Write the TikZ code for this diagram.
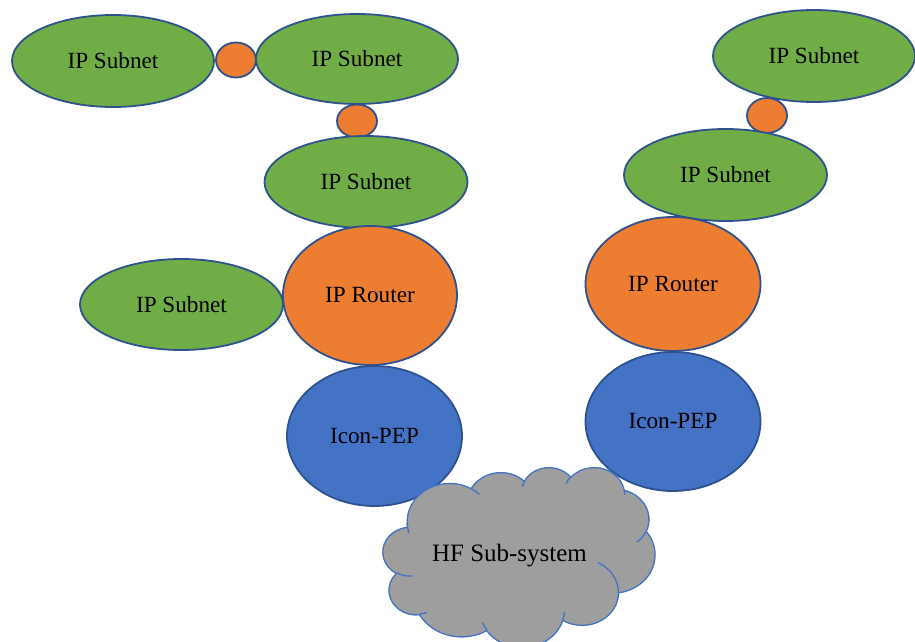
\documentclass[tikz,border=0pt]{standalone}
\usepackage{fontspec}
\setmainfont{Liberation Serif}
\usetikzlibrary{shapes.geometric}
\definecolor{sgreen}{HTML}{70AD47}
\definecolor{sorange}{HTML}{ED7D31}
\definecolor{sblue}{HTML}{4472C4}
\definecolor{sline}{HTML}{2F528F}
\definecolor{cgray}{HTML}{9E9E9E}
\definecolor{cline}{HTML}{4472C4}
\def\cldr{1}
\newcommand\carc[4]{arc[x radius=#1, y radius=#2, start angle={atan2(#1*\cldr*sin(#3),#2*cos(#3))}, delta angle={mod(atan2(#1*\cldr*sin(#3+#4),#2*cos(#3+#4))-atan2(#1*\cldr*sin(#3),#2*cos(#3))+720,360)}]}
\tikzset{
  ell/.style={ellipse, draw=sline, line width=1.8pt, inner sep=0pt, font=\fontsize{23.2}{28}\selectfont},
  subnet/.style={ell, fill=sgreen, minimum width=202pt, minimum height=91pt},
  knot/.style={ell, fill=sorange, minimum width=40pt, minimum height=35pt},
  router/.style={ell, fill=sorange, minimum width=174pt},
  pep/.style={ell, fill=sblue, minimum width=174pt},
  cloudfill/.style={fill=cgray, draw=cline, line width=1.3pt, line join=round},
  cloudline/.style={draw=cline, line width=1.3pt},
}
\begin{document}
\begin{tikzpicture}[x=1pt, y=-1pt]
\useasboundingbox (0,0) rectangle (915,642);
% small orange connectors
\node[knot] (o1) at (236,60) {};
\node[knot, minimum height=33pt] (o2) at (357,121) {};
\node[knot] (o3) at (767,115.5) {};
% subnets
\node[subnet, minimum height=92pt] (s1) at (113,61) {IP Subnet};
\node[subnet, minimum height=90pt] (s2) at (357,59) {IP Subnet};
\node[subnet, minimum width=203pt, minimum height=92pt] (s3) at (366,182) {IP Subnet};
\node[subnet, minimum width=203pt] (s4) at (181.5,304.5) {IP Subnet};
\node[subnet, minimum height=92pt] (s5) at (814,56) {IP Subnet};
\node[subnet, minimum width=203pt, minimum height=92pt] (s6) at (725.5,175) {IP Subnet};
% routers and PEPs
\node[router, minimum height=139pt] (r1) at (370,295.5) {IP Router};
\node[router, minimum width=175pt, minimum height=134pt] (r2) at (673,284) {IP Router};
\node[pep, minimum width=175pt, minimum height=140pt] (p1) at (374.5,436) {Icon-PEP};
\node[pep, minimum width=175pt, minimum height=139pt] (p2) at (673,421.5) {Icon-PEP};
% cloud
\begin{scope}[shift={(383,467)}, xscale=0.062963, yscale=0.041667]
\path[cloudfill] (390,1437)
  \carc{675.3}{919.0}{-190.4875}{123.7805}
  \carc{533.3}{726.7}{-144.1024}{89.9452}
  \carc{436.5}{594.5}{-145.8079}{99.7230}
  \carc{485.7}{659.5}{-130.9861}{117.2417}
  \carc{533.3}{727.3}{-78.7089}{109.0269}
  \carc{677.5}{922.0}{-46.2673}{130.2690}
  \carc{578.5}{786.7}{0.6250}{114.0333}
  \carc{675.2}{921.5}{22.4516}{115.1726}
  \carc{772.0}{1054.3}{66.2426}{75.7110}
  \carc{436.0}{591.8}{-274.9421}{146.7356}
  \carc{434.5}{594.5}{-246.8285}{152.5189}
  -- cycle;
\path[cloudline]
  (469.3,2617.7) \carc{434.5}{594.5}{86.7420}{26.4295}
  (692.8,3489.9) \carc{436.0}{591.8}{73.6105}{11.4475}
  (1647.8,3909.0) \carc{675.2}{921.5}{137.6242}{14.0811}
  (2882.7,3475.1) \carc{675.2}{921.5}{6.4533}{15.9984}
  (3412.9,2295.4) \carc{578.5}{786.7}{-70.2924}{70.9174}
  (4179.8,1535.4) \carc{533.3}{727.3}{30.3180}{27.7515}
  (3832.4,542.6) \carc{485.7}{659.5}{-13.7443}{14.8589}
  (2907.8,395.2) \carc{485.7}{659.5}{-149.1815}{18.1954}
  (2214.1,472.0) \carc{436.5}{594.5}{-163.4943}{17.6864}
  (1400.0,519.2) \carc{675.3}{919.0}{-66.7070}{12.3194}
  (412.7,1578.9) \carc{675.3}{919.0}{155.6472}{19.5555};
\end{scope}
\node[font=\fontsize{25}{30}\selectfont, inner sep=0pt] (hf) at (509.5,556) {HF Sub-system};
\end{tikzpicture}
\end{document}
